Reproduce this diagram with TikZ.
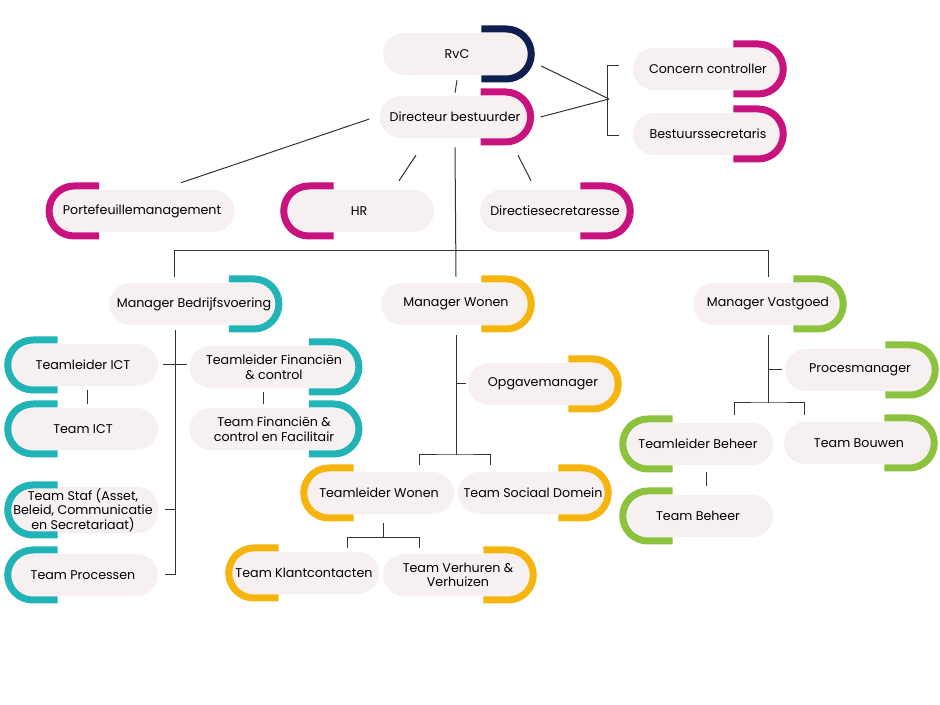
\documentclass[tikz,border=0pt]{standalone}
\usepackage{fontspec}
\setmainfont{Poppins}
\usepackage{tikz}

\definecolor{navy}{HTML}{0E1F50}
\definecolor{roze}{HTML}{C8137F}
\definecolor{teal}{HTML}{22B3B7}
\definecolor{oranje}{HTML}{F6B40E}
\definecolor{groen}{HTML}{8DC23F}
\definecolor{pillgrijs}{HTML}{F6F0F0}

\tikzset{
	pill/.style = {fill = pillgrijs, rounded corners = 15.75pt, minimum height = 31.5pt,
		minimum width = 112.5pt, inner sep = 1pt, align = center,
		font = \fontsize{9.5}{11}\selectfont},
	lijn/.style = {line width = .75pt, black!80}
}
% bracket on the right or left side of a pill
\newcommand{\brR}[2]{\draw [line width = 5.25pt, #2] ([shift = {(-50,25)}]#1.east) -- ++(25,0) arc [start angle = 90, end angle = -90, radius = 25] -- ++(-25,0);}
\newcommand{\brL}[2]{\draw [line width = 5.25pt, #2] ([shift = {(50,25)}]#1.west) -- ++(-25,0) arc [start angle = 90, end angle = 270, radius = 25] -- ++(25,0);}

\begin{document}
\begin{tikzpicture}[x = .75pt, y = .75pt]
	\useasboundingbox (0,0) rectangle (940,-705);
	\node [pill, minimum width = 111pt] (rvc) at (457,-54) {RvC};
	\node [pill, minimum width = 113pt] (dir) at (455,-117) {Directeur bestuurder};
	\node [pill] (concern) at (708,-69) {Concern controller};
	\node [pill] (bestuur) at (708,-134) {Bestuurssecretaris};
	\node [pill, minimum width = 139pt] (porte) at (142,-211) {Portefeuillemanagement};
	\node [pill] (hr) at (359,-211) {HR};
	\node [pill] (dirsec) at (555,-211) {Directiesecretaresse};
	\node [pill, minimum width = 127pt] (mbv) at (194,-304) {Manager Bedrijfsvoering};
	\node [pill] (mwon) at (456,-304) {Manager Wonen};
	\node [pill] (mvast) at (768,-304) {Manager Vastgoed};
	\node [pill] (tlict) at (83,-365) {Teamleider ICT};
	\node [pill] (tict) at (83,-429) {Team ICT};
	\node [pill, minimum width = 127pt] (tlfin) at (274,-367) {Teamleider Financiën\\\& control};
	\node [pill, minimum width = 127pt] (tfin) at (274,-429) {Team Financiën \&\\control en Facilitair};
	\node [pill] (tstaf) at (83,-510) {Team Staf (Asset,\\Beleid, Communicatie\\en Secretariaat)};
	\node [pill] (tproc) at (83,-575) {Team Processen};
	\node [pill] (opgave) at (543,-384) {Opgavemanager};
	\node [pill] (tlwon) at (379,-493) {Teamleider Wonen};
	\node [pill] (tsoc) at (533,-493) {Team Sociaal Domein};
	\node [pill] (tklant) at (304,-573) {Team Klantcontacten};
	\node [pill] (tverh) at (458,-575) {Team Verhuren \&\\Verhuizen};
	\node [pill] (proces) at (860,-370) {Procesmanager};
	\node [pill] (tlbeh) at (698,-444) {Teamleider Beheer};
	\node [pill] (tbouw) at (859,-443) {Team Bouwen};
	\node [pill] (tbeh) at (698,-516) {Team Beheer};

	\brR{rvc}{navy} \brR{dir}{roze} \brR{concern}{roze} \brR{bestuur}{roze}
	\brL{porte}{roze} \brL{hr}{roze} \brR{dirsec}{roze}
	\brR{mbv}{teal} \brR{mwon}{oranje} \brR{mvast}{groen}
	\brL{tlict}{teal} \brL{tict}{teal} \brR{tlfin}{teal} \brR{tfin}{teal}
	\brL{tstaf}{teal} \brL{tproc}{teal}
	\brR{opgave}{oranje} \brL{tlwon}{oranje} \brR{tsoc}{oranje}
	\brL{tklant}{oranje} \brR{tverh}{oranje}
	\brR{proces}{groen} \brL{tlbeh}{groen} \brR{tbouw}{groen} \brL{tbeh}{groen}

	\coordinate (top) at (609,-99);
	\coordinate (bvend) at (175,-575);
	\coordinate (wbus) at (456,-455);
	\coordinate (vbus) at (768,-403);

	% top
	\draw [lijn] ([shift = {(0,-5)}]rvc.south) -- ([shift = {(0,3)}]dir.north);
	\draw [lijn] ([shift = {(10,-12)}]rvc.east) -- (top);
	\draw [lijn] ([shift = {(10,0)}]dir.east) -- (top);
	\draw [lijn] ([shift = {(-14,3)}]concern.west) -- ++(-11,0) |- ([shift = {(-14,-2)}]bestuur.west);
	\draw [lijn] ([shift = {(-10,-2)}]dir.west) -- ([shift = {(39,7)}]porte.north);
	\draw [lijn] ([shift = {(-39,-17)}]dir.south) -- ([shift = {(40,9)}]hr.north);
	\draw [lijn] ([shift = {(63,-17)}]dir.south) -- ([shift = {(-24,9)}]dirsec.north);
	\draw [lijn] ([shift = {(0,-9)}]dir.south) -- ([shift = {(0,6)}]mwon.north);
	\draw [lijn] ([shift = {(-20,6)}]mbv.north) -- ++(0,26) -| ([shift = {(0,6)}]mvast.north);

	% bedrijfsvoering
	\draw [lijn] ([shift = {(-19,-5)}]mbv.south) -- (bvend) -- ([shift = {(7,0)}]tproc.east);
	\draw [lijn] ([shift = {(5,0)}]tlict.east) -- ++(24,0);
	\draw [lijn] ([shift = {(7,0)}]tstaf.east) -- ++(10,0);
	\draw [lijn] ([shift = {(4,-4)}]tlict.south) -- ([shift = {(4,4)}]tict.north);
	\draw [lijn] ([shift = {(-11,-4)}]tlfin.south) -- ([shift = {(-11,4)}]tfin.north);

	% wonen
	\draw [lijn] ([shift = {(0,-10)}]mwon.south) -- (wbus);
	\draw [lijn] ([shift = {(-12,0)}]opgave.west) -- ++(10,0);
	\draw [lijn] ([shift = {(40,7)}]tlwon.north) |- (wbus) -| ([shift = {(-43,7)}]tsoc.north);
	\draw [lijn] ([shift = {(4,-9)}]tlwon.south) -- ++(0,-14);
	\draw [lijn] ([shift = {(43,4)}]tklant.north) |- ([shift = {(4,-23)}]tlwon.south) -| ([shift = {(-39,6)}]tverh.north);

	% vastgoed
	\draw [lijn] ([shift = {(0,-10)}]mvast.south) -- (vbus);
	\draw [lijn] ([shift = {(-17,0)}]proces.west) -- ++(14,0);
	\draw [lijn] ([shift = {(36,8)}]tlbeh.north) |- (vbus) -| ([shift = {(-55,7)}]tbouw.north);
	\draw [lijn] ([shift = {(8,-7)}]tlbeh.south) -- ([shift = {(8,9)}]tbeh.north);
\end{tikzpicture}
\end{document}
